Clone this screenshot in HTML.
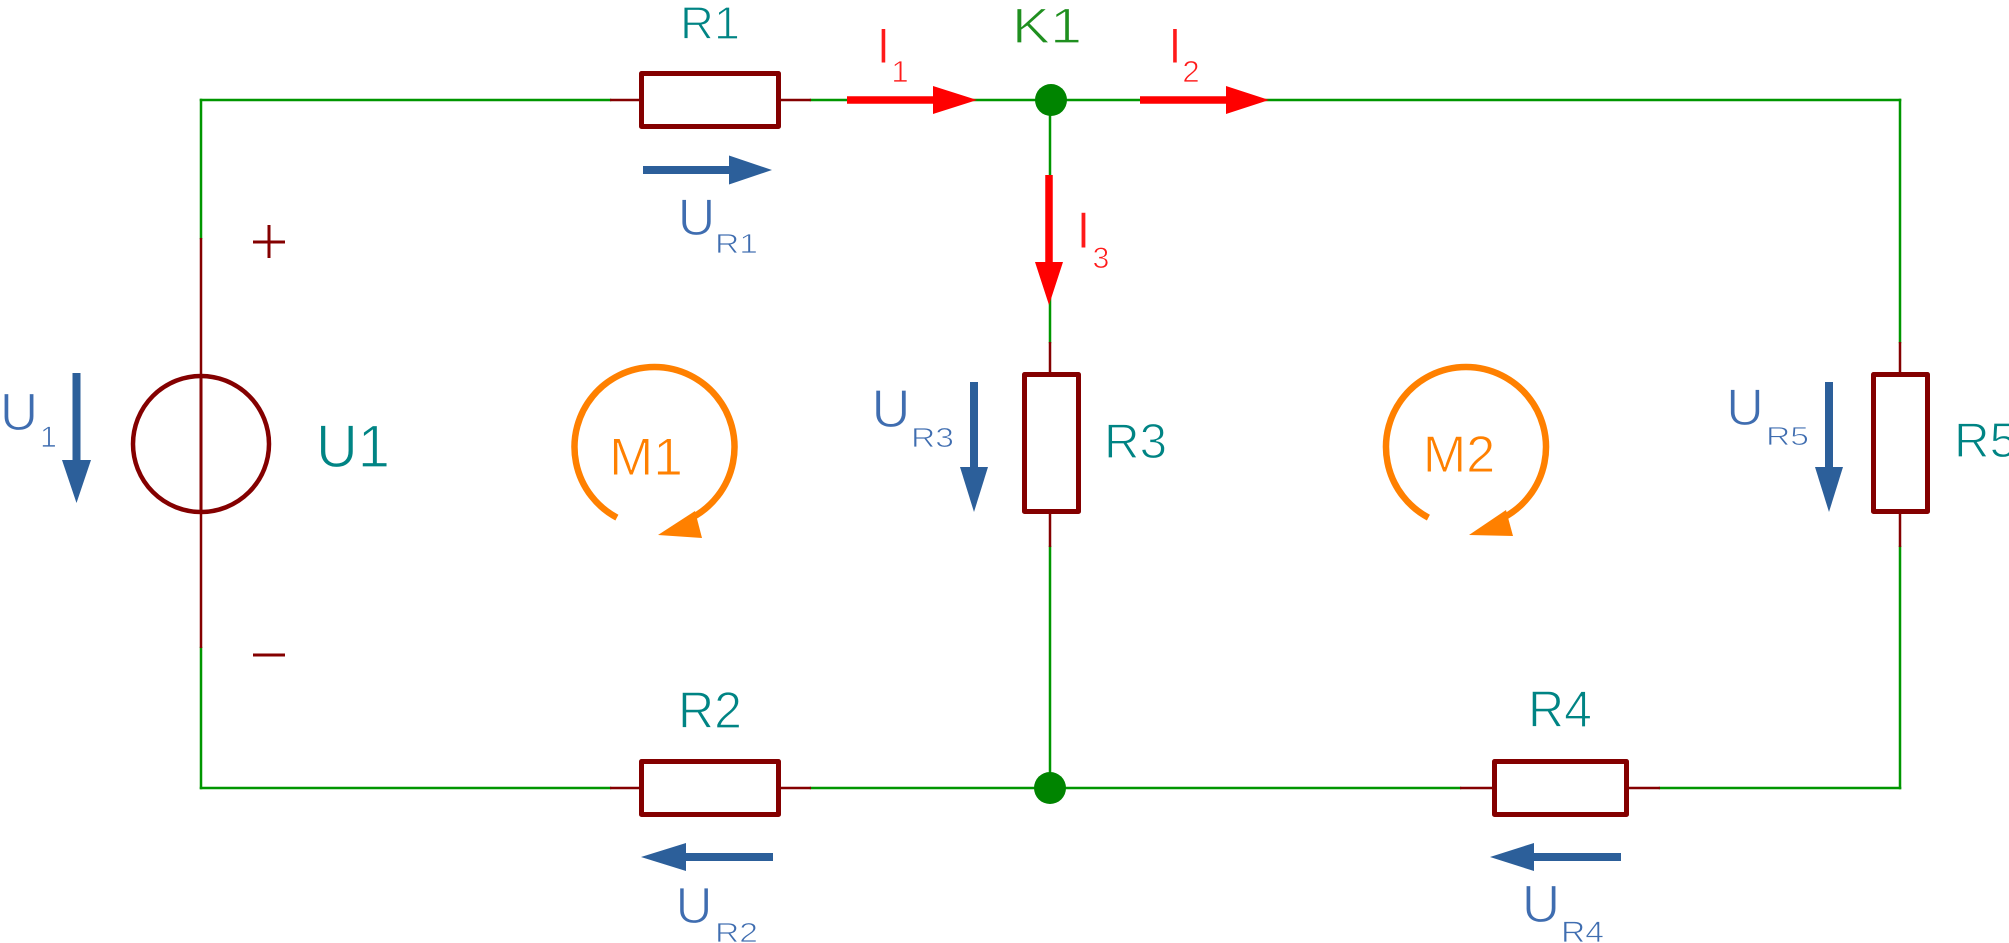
<!DOCTYPE html>
<html>
<head>
<meta charset="utf-8">
<style>
  html, body { margin: 0; padding: 0; background: #ffffff; }
  svg { display: block; }
  text { font-family: "Liberation Sans", "DejaVu Sans", sans-serif; }
</style>
</head>
<body>
<svg width="2009" height="943" viewBox="0 0 2009 943" xmlns="http://www.w3.org/2000/svg">
  <rect x="0" y="0" width="2009" height="943" fill="#ffffff"/>

  <!-- Green wires -->
  <g stroke="#009600" stroke-width="2.5" fill="none" stroke-linecap="square">
    <path d="M201 100 H610"/>
    <path d="M811 100 H1900"/>
    <path d="M201 100 V238"/>
    <path d="M201 648 V788"/>
    <path d="M201 788 H610"/>
    <path d="M811 788 H1460"/>
    <path d="M1660 788 H1900"/>
    <path d="M1050 100 V342"/>
    <path d="M1050 547 V788"/>
    <path d="M1900 100 V342"/>
    <path d="M1900 547 V788"/>
  </g>

  <!-- Dark red pin leads -->
  <g stroke="#840000" stroke-width="2.5" fill="none">
    <path d="M610 100 H641"/>
    <path d="M779 100 H811"/>
    <path d="M610 788 H641"/>
    <path d="M779 788 H811"/>
    <path d="M1460 788 H1492"/>
    <path d="M1627 788 H1660"/>
    <path d="M1050 342 V372"/>
    <path d="M1050 514 V547"/>
    <path d="M1900 342 V372"/>
    <path d="M1900 514 V547"/>
    <path d="M201 238 V648"/>
  </g>

  <!-- Resistor bodies -->
  <g stroke="#840000" stroke-width="5" fill="#ffffff" stroke-linejoin="round">
    <rect x="641.5" y="73.5" width="137" height="53"/>
    <rect x="641.5" y="761.5" width="137" height="53"/>
    <rect x="1494.5" y="761.5" width="132" height="53"/>
    <rect x="1024.5" y="374.5" width="54" height="137"/>
    <rect x="1873.5" y="374.5" width="54" height="137"/>
  </g>

  <!-- Voltage source -->
  <circle cx="201" cy="444" r="68" stroke="#840000" stroke-width="4.5" fill="none"/>
  <path d="M201 374 V514" stroke="#840000" stroke-width="3" fill="none"/>

  <!-- + and - -->
  <g stroke="#840000" stroke-width="3" fill="none">
    <path d="M253 242 H285"/>
    <path d="M269 225 V258"/>
    <path d="M253 655 H285"/>
  </g>

  <!-- Nodes -->
  <circle cx="1051" cy="100" r="16" fill="#008400"/>
  <circle cx="1050" cy="788" r="16" fill="#008400"/>

  <!-- Red current arrows -->
  <g fill="#ff0000" stroke="none">
    <rect x="847" y="96.25" width="88" height="7.5"/>
    <polygon points="933,86 977,100 933,114"/>
    <rect x="1140" y="96.25" width="88" height="7.5"/>
    <polygon points="1226,86 1269,100 1226,114"/>
    <rect x="1045.25" y="175" width="7.5" height="89"/>
    <polygon points="1035,262 1063,262 1049,305"/>
  </g>

  <!-- Blue voltage arrows -->
  <g fill="#2c5f9a" stroke="none">
    <rect x="643" y="166" width="88" height="8"/>
    <polygon points="729,155.5 772,170 729,184.5"/>
    <rect x="684" y="853" width="89" height="8"/>
    <polygon points="686,843 641,857 686,871"/>
    <rect x="1532" y="853" width="89" height="8"/>
    <polygon points="1534,843 1490,857 1534,871"/>
    <rect x="72.5" y="373" width="8" height="89"/>
    <polygon points="62,460 91,460 76.5,503"/>
    <rect x="970" y="382" width="8" height="87"/>
    <polygon points="960,467 988,467 974,512"/>
    <rect x="1825" y="382" width="8" height="87"/>
    <polygon points="1815,467 1843,467 1829,512"/>
  </g>

  <!-- Mesh arrows (orange) -->
  <g stroke="#ff8000" stroke-width="6.5" fill="none">
    <path d="M616.9 517.6 A80 80 0 1 1 692.1 517.6"/>
    <path d="M1428.4 517.6 A80 80 0 1 1 1503.6 517.6"/>
  </g>
  <g fill="#ff8000">
    <polygon points="658,535 695,511 702,538"/>
    <polygon points="1469,535 1506,510 1513,536"/>
  </g>

  <!-- Component labels (teal) -->
  <g fill="#008484" stroke="#ffffff" stroke-width="1.2">
    <text x="680" y="39" font-size="46" textLength="60" lengthAdjust="spacingAndGlyphs">R1</text>
    <text x="678" y="728" font-size="52" textLength="64" lengthAdjust="spacingAndGlyphs">R2</text>
    <text x="1528" y="727" font-size="52" textLength="64" lengthAdjust="spacingAndGlyphs">R4</text>
    <text x="1104" y="458" font-size="49" textLength="63" lengthAdjust="spacingAndGlyphs">R3</text>
    <text x="1954" y="457" font-size="49" textLength="63" lengthAdjust="spacingAndGlyphs">R5</text>
    <text x="316" y="467" font-size="60" textLength="74" lengthAdjust="spacingAndGlyphs">U1</text>
  </g>

  <!-- K1 -->
  <text x="1012" y="43" font-size="50" fill="#1f8f1f" stroke="#ffffff" stroke-width="1.2" textLength="70" lengthAdjust="spacingAndGlyphs">K1</text>

  <!-- Current labels (red) -->
  <g fill="#ff1a1a" text-anchor="middle" stroke="#ffffff" stroke-width="1">
    <text x="883.5" y="63" font-size="50">I</text>
    <text x="900" y="82" font-size="31" stroke-width="0.8">1</text>
    <text x="1175" y="63" font-size="50">I</text>
    <text x="1191" y="82" font-size="31" stroke-width="0.8">2</text>
    <text x="1083.5" y="248" font-size="52">I</text>
    <text x="1101" y="268" font-size="30" stroke-width="0.8">3</text>
  </g>

  <!-- Voltage labels (blue) -->
  <g fill="#3f6db0" stroke="#ffffff" stroke-width="1.2">
    <text x="19" y="430" font-size="53" text-anchor="middle">U</text>
    <text x="48.5" y="447" font-size="30" text-anchor="middle" stroke-width="0.8">1</text>

    <text x="696.5" y="235" font-size="52" text-anchor="middle">U</text>
    <text x="715" y="253" font-size="28" textLength="43" lengthAdjust="spacingAndGlyphs" stroke-width="0.8">R1</text>

    <text x="694" y="923" font-size="51" text-anchor="middle">U</text>
    <text x="715" y="942" font-size="28" textLength="43" lengthAdjust="spacingAndGlyphs" stroke-width="0.8">R2</text>

    <text x="891" y="427" font-size="54" text-anchor="middle">U</text>
    <text x="911" y="447" font-size="28" textLength="43" lengthAdjust="spacingAndGlyphs" stroke-width="0.8">R3</text>

    <text x="1541" y="922" font-size="53" text-anchor="middle">U</text>
    <text x="1561" y="942" font-size="30" textLength="43" lengthAdjust="spacingAndGlyphs" stroke-width="0.8">R4</text>

    <text x="1745" y="425" font-size="52" text-anchor="middle">U</text>
    <text x="1766" y="445" font-size="26" textLength="43" lengthAdjust="spacingAndGlyphs" stroke-width="0.8">R5</text>
  </g>

  <!-- Mesh labels -->
  <g fill="#ff8000" text-anchor="middle" stroke="#ffffff" stroke-width="1">
    <text x="646" y="475" font-size="53">M1</text>
    <text x="1459" y="472" font-size="52">M2</text>
  </g>
</svg>
</body>
</html>
